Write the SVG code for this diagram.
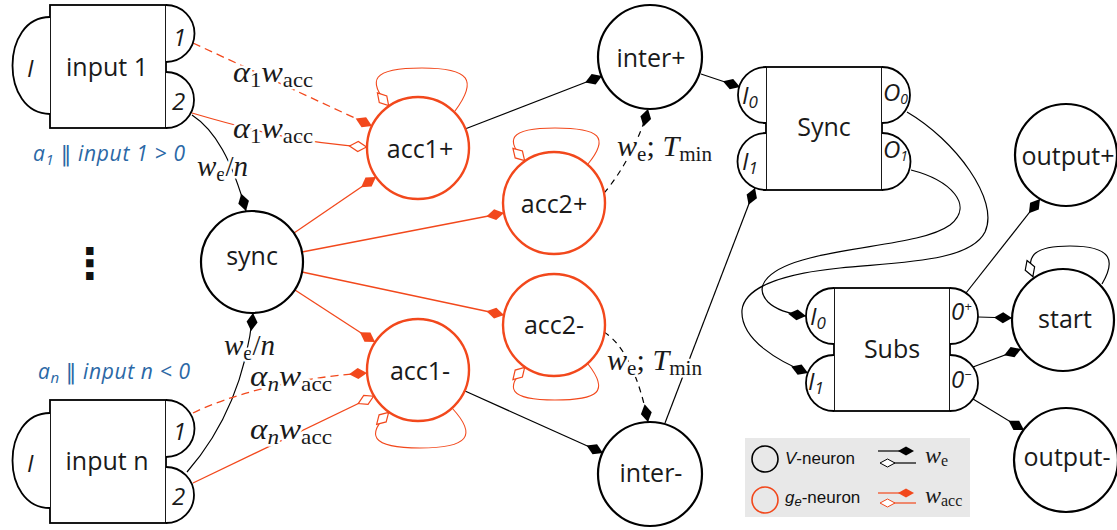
<svg xmlns="http://www.w3.org/2000/svg" width="1117" height="530" viewBox="0 0 1117 530">
<defs>
<style>
.nb{fill:#fff;stroke:#000;stroke-width:2.2}
.no{fill:#fff;stroke:#f2481c;stroke-width:2.4}
.blk{fill:#fff;stroke:#000;stroke-width:1.8}
.lbl{font-family:"Open Sans","DejaVu Sans",sans-serif;font-size:25px;fill:#1a1a1a;text-anchor:middle}
.pl{font-family:"Open Sans","DejaVu Sans",sans-serif;font-size:24px;font-style:italic;fill:#1a1a1a}
.cb{fill:none;stroke:#000;stroke-width:1.2}
.co{fill:none;stroke:#f2481c;stroke-width:1.3}
.lo{fill:none;stroke:#f2481c;stroke-width:1.1}
.dash{stroke-dasharray:8 5}
.dashb{stroke-dasharray:6 5}
.m{font-family:"Liberation Serif","DejaVu Serif",serif;font-size:30px;fill:#1a1a1a;stroke:#fff;stroke-width:5;paint-order:stroke;stroke-linejoin:round}
.i{font-style:italic}
.ann{font-family:"Open Sans","DejaVu Sans",sans-serif;font-size:21px;font-style:italic;fill:#2b68a6}
.leg{font-family:"Liberation Sans",Arial,sans-serif;font-size:17px;fill:#111}
.lm{font-family:"Liberation Serif","DejaVu Serif",serif;font-size:24px;fill:#1a1a1a}
</style>
<marker id="dB" viewBox="0 0 20 14" refX="19" refY="7" markerWidth="20" markerHeight="14" markerUnits="userSpaceOnUse" orient="auto"><path d="M1,7 L10,1.5 L19,7 L10,12.5 Z" fill="#000"/></marker>
<marker id="dO" viewBox="0 0 20 14" refX="19" refY="7" markerWidth="20" markerHeight="14" markerUnits="userSpaceOnUse" orient="auto"><path d="M1,7 L10,1.5 L19,7 L10,12.5 Z" fill="#f2481c"/></marker>
<marker id="oO" viewBox="0 0 20 14" refX="19" refY="7" markerWidth="20" markerHeight="14" markerUnits="userSpaceOnUse" orient="auto"><path d="M1.5,7 L10,2 L18.5,7 L10,12 Z" fill="#fff" stroke="#f2481c" stroke-width="1.2"/></marker>
<marker id="oB" viewBox="0 0 20 14" refX="19" refY="7" markerWidth="20" markerHeight="14" markerUnits="userSpaceOnUse" orient="auto"><path d="M1.5,7 L10,2 L18.5,7 L10,12 Z" fill="#fff" stroke="#000" stroke-width="1.2"/></marker>
</defs>
<rect width="1117" height="530" fill="#fff"/>

<g id="connectors">
<path class="co dash" d="M193,43 L372,126" marker-end="url(#dO)"/>
<path class="co" d="M192,113 C250,130 300,143 367,147" marker-end="url(#oO)"/>
<path class="cb" d="M192,115 C215,130 232,160 246,211" marker-end="url(#dB)"/>
<path class="cb" d="M187,472 C215,440 245,390 253,313" marker-end="url(#dB)"/>
<path class="co dash" d="M193,413 C230,395 290,378 367,373" marker-end="url(#dO)"/>
<path class="co" d="M193,483 L374,396" marker-end="url(#oO)"/>
<path class="co" d="M294,233 L376,177" marker-end="url(#dO)"/>
<path class="co" d="M302,252 L504,213" marker-end="url(#dO)"/>
<path class="co" d="M302,272 L504,315" marker-end="url(#dO)"/>
<path class="co" d="M295,290 L375,342" marker-end="url(#dO)"/>
<path class="cb" d="M465,129 L602,76" marker-end="url(#dB)"/>
<path class="cb" d="M465,391 L603,453" marker-end="url(#dB)"/>
<path class="cb dashb" d="M604,193 C620,175 640,140 648,109" marker-end="url(#dB)"/>
<path class="cb dashb" d="M604,332 C625,345 640,380 648,422" marker-end="url(#dB)"/>
<path class="cb" d="M701,74 L740,87" marker-end="url(#dB)"/>
<path class="cb" d="M665,423 L755,188" marker-end="url(#dB)"/>
<path class="cb" d="M911,170 C950,180 975,205 950,225 C925,243 860,245 810,258 C770,268 752,285 768,302 C776,310 790,314 806,316" marker-end="url(#dB)"/>
<path class="cb" d="M907,112 C955,140 1000,200 985,232 C970,262 900,262 840,268 C790,273 745,285 742,310 C740,340 780,362 808,373" marker-end="url(#dB)"/>
<path class="cb" d="M966,293 L1040,199" marker-end="url(#dB)"/>
<path class="cb" d="M978,317 L1012,318" marker-end="url(#dB)"/>
<path class="cb" d="M973,367 L1021,349" marker-end="url(#dB)"/>
<path class="cb" d="M973,399 L1024,430" marker-end="url(#dB)"/>
<path class="lo" d="M455,111 C478,80 470,68 422,68 C372,68 366,80 389,106" marker-end="url(#oO)"/>
<path class="lo" d="M588,164 C610,137 600,128 555,128 C508,128 505,140 525,161" marker-end="url(#oO)"/>
<path class="lo" d="M452,408 C478,436 468,448 420,448 C370,448 366,435 389,412" marker-end="url(#oO)"/>
<path class="lo" d="M588,364 C610,392 598,400 555,400 C508,400 505,388 525,367" marker-end="url(#oO)"/>
<path class="cb" d="M1102,284 C1115,262 1114,246 1070,246 C1035,246 1025,255 1033,277" marker-end="url(#oB)"/>
<text class="m" x="233" y="82" textLength="80" lengthAdjust="spacingAndGlyphs"><tspan class="i">α</tspan><tspan font-size="21" dy="5">1</tspan><tspan class="i" dy="-5">w</tspan><tspan font-size="21" dy="5">acc</tspan></text>
<text class="m" x="233" y="138" textLength="80" lengthAdjust="spacingAndGlyphs"><tspan class="i">α</tspan><tspan font-size="21" dy="5">1</tspan><tspan class="i" dy="-5">w</tspan><tspan font-size="21" dy="5">acc</tspan></text>
<text class="m" x="197" y="176" textLength="51" lengthAdjust="spacingAndGlyphs"><tspan class="i">w</tspan><tspan font-size="21" dy="5">e</tspan><tspan dy="-5">/</tspan><tspan class="i">n</tspan></text>
<text class="m" x="224" y="355" textLength="51" lengthAdjust="spacingAndGlyphs"><tspan class="i">w</tspan><tspan font-size="21" dy="5">e</tspan><tspan dy="-5">/</tspan><tspan class="i">n</tspan></text>
<text class="m" x="250" y="386" textLength="82" lengthAdjust="spacingAndGlyphs"><tspan class="i">α</tspan><tspan class="i" font-size="21" dy="5">n</tspan><tspan class="i" dy="-5">w</tspan><tspan font-size="21" dy="5">acc</tspan></text>
<text class="m" x="250" y="439" textLength="82" lengthAdjust="spacingAndGlyphs"><tspan class="i">α</tspan><tspan class="i" font-size="21" dy="5">n</tspan><tspan class="i" dy="-5">w</tspan><tspan font-size="21" dy="5">acc</tspan></text>
<text class="m" x="617" y="156" textLength="95" lengthAdjust="spacingAndGlyphs"><tspan class="i">w</tspan><tspan font-size="21" dy="5">e</tspan><tspan dy="-5">; </tspan><tspan class="i">T</tspan><tspan font-size="21" dy="5">min</tspan></text>
<text class="m" x="607" y="370" textLength="95" lengthAdjust="spacingAndGlyphs"><tspan class="i">w</tspan><tspan font-size="21" dy="5">e</tspan><tspan dy="-5">; </tspan><tspan class="i">T</tspan><tspan font-size="21" dy="5">min</tspan></text>
</g>

<g id="input1">
<rect class="blk" x="50" y="5" width="116" height="123"/>
<path class="blk" d="M50,17 C0,17 0,114 50,114"/>
<path class="blk" d="M166,5 A28.5,28.5 0 0 1 166,62"/>
<path class="blk" d="M166,72 A28,28 0 0 1 166,128"/>
<text class="lbl" x="107" y="76">input 1</text>
<text class="pl" x="27" y="77">I</text>
<text class="pl" x="173" y="46">1</text>
<text class="pl" x="172" y="110">2</text>
</g>
<text class="ann" x="33" y="161" textLength="152"><tspan>a</tspan><tspan font-size="15" dy="4">1</tspan><tspan dy="-4"> ‖ input 1 &gt; 0</tspan></text>

<g id="inputn">
<rect class="blk" x="50" y="400" width="116" height="123"/>
<path class="blk" d="M50,413 C0,413 0,508 50,508"/>
<path class="blk" d="M166,400 A28.5,28.5 0 0 1 166,457"/>
<path class="blk" d="M166,467 A28,28 0 0 1 166,523"/>
<text class="lbl" x="107" y="470">input n</text>
<text class="pl" x="27" y="472">I</text>
<text class="pl" x="173" y="440">1</text>
<text class="pl" x="172" y="505">2</text>
</g>
<text class="ann" x="38" y="379" textLength="152"><tspan>a</tspan><tspan font-size="15" dy="4">n</tspan><tspan dy="-4"> ‖ input n &lt; 0</tspan></text>

<text x="90" y="278" font-family="DejaVu Sans, sans-serif" font-size="42" font-weight="bold" text-anchor="middle" fill="#111">⋮</text>

<g id="sync"><circle class="nb" cx="252" cy="262" r="51"/><text class="lbl" x="252" y="265">sync</text></g>
<g id="acc1p"><circle class="no" cx="418" cy="148" r="51"/><text class="lbl" x="420" y="158">acc1+</text></g>
<g id="acc1m"><circle class="no" cx="418" cy="370" r="51"/><text class="lbl" x="420" y="380">acc1-</text></g>
<g id="acc2p"><circle class="no" cx="554" cy="203" r="51"/><text class="lbl" x="554" y="213">acc2+</text></g>
<g id="acc2m"><circle class="no" cx="554" cy="325" r="51"/><text class="lbl" x="554" y="334">acc2-</text></g>
<g id="interp"><circle class="nb" cx="650" cy="57" r="52"/><text class="lbl" x="651" y="67">inter+</text></g>
<g id="interm"><circle class="nb" cx="650" cy="474" r="52"/><text class="lbl" x="651" y="482">inter-</text></g>

<g id="syncblock">
<rect class="blk" x="766" y="67" width="116" height="123"/>
<path class="blk" d="M766,67 A28,28 0 0 0 766,123"/>
<path class="blk" d="M766,133 A28.5,28.5 0 0 0 766,190"/>
<path class="blk" d="M882,67 A28,28 0 0 1 882,123"/>
<path class="blk" d="M882,133 A28.5,28.5 0 0 1 882,190"/>
<text class="lbl" x="824" y="136">Sync</text>
<text class="pl" x="742" y="104">I<tspan font-size="17" dy="4">0</tspan></text>
<text class="pl" x="742" y="170">I<tspan font-size="17" dy="4">1</tspan></text>
<text class="pl" x="883" y="101" font-size="22">O<tspan font-size="14" dy="3">0</tspan></text>
<text class="pl" x="883" y="158" font-size="22">O<tspan font-size="14" dy="3">1</tspan></text>
</g>

<g id="subs">
<rect class="blk" x="834" y="288" width="116" height="123"/>
<path class="blk" d="M834,288 A28,28 0 0 0 834,344"/>
<path class="blk" d="M834,355 A28,28 0 0 0 834,411"/>
<path class="blk" d="M950,288 A28,28 0 0 1 950,344"/>
<path class="blk" d="M950,355 A28,28 0 0 1 950,411"/>
<text class="lbl" x="892" y="358">Subs</text>
<text class="pl" x="810" y="325">I<tspan font-size="17" dy="4">0</tspan></text>
<text class="pl" x="808" y="390">I<tspan font-size="17" dy="4">1</tspan></text>
<text class="pl" x="951" y="320" font-size="22">0<tspan font-size="13" dy="-9">+</tspan></text>
<text class="pl" x="951" y="388" font-size="22">0<tspan font-size="13" dy="-9">−</tspan></text>
</g>

<g id="outputp"><circle class="nb" cx="1066" cy="155" r="51"/><text class="lbl" x="1068" y="165">output+</text></g>
<g id="start"><circle class="nb" cx="1063" cy="320" r="51"/><text class="lbl" x="1065" y="328">start</text></g>
<g id="outputm"><circle class="nb" cx="1066" cy="460" r="52"/><text class="lbl" x="1067" y="466">output-</text></g>

<g id="legend">
<rect x="745" y="438" width="225" height="79" fill="#e8e8e8"/>
<circle cx="765" cy="459" r="13" fill="none" stroke="#000" stroke-width="1.6"/>
<circle cx="765" cy="500" r="13" fill="none" stroke="#f2481c" stroke-width="1.6"/>
<text class="leg" x="785" y="464"><tspan font-style="italic">V</tspan>-neuron</text>
<text class="leg" x="785" y="503"><tspan font-style="italic">g</tspan><tspan font-style="italic" font-size="13" dy="3">e</tspan><tspan dy="-3">-neuron</tspan></text>
<line x1="878" y1="451" x2="906" y2="451" stroke="#000" stroke-width="1.2"/>
<polygon points="898,451 906,446.5 914,451 906,455.5" fill="#000"/>
<line x1="888" y1="463" x2="916" y2="463" stroke="#000" stroke-width="1.2"/>
<polygon points="880,463 887.5,459 895,463 887.5,467" fill="#fff" stroke="#000" stroke-width="1"/>
<line x1="878" y1="493" x2="906" y2="493" stroke="#f2481c" stroke-width="1.2"/>
<polygon points="898,493 906,488.5 914,493 906,497.5" fill="#f2481c"/>
<line x1="888" y1="503" x2="916" y2="503" stroke="#f2481c" stroke-width="1.2"/>
<polygon points="880,503 887.5,499 895,503 887.5,507" fill="#fff" stroke="#f2481c" stroke-width="1"/>
<text class="lm" x="925" y="463"><tspan font-style="italic">w</tspan><tspan font-size="16" dy="3">e</tspan></text>
<text class="lm" x="925" y="503"><tspan font-style="italic">w</tspan><tspan font-size="16" dy="3">acc</tspan></text>
</g>
</svg>
